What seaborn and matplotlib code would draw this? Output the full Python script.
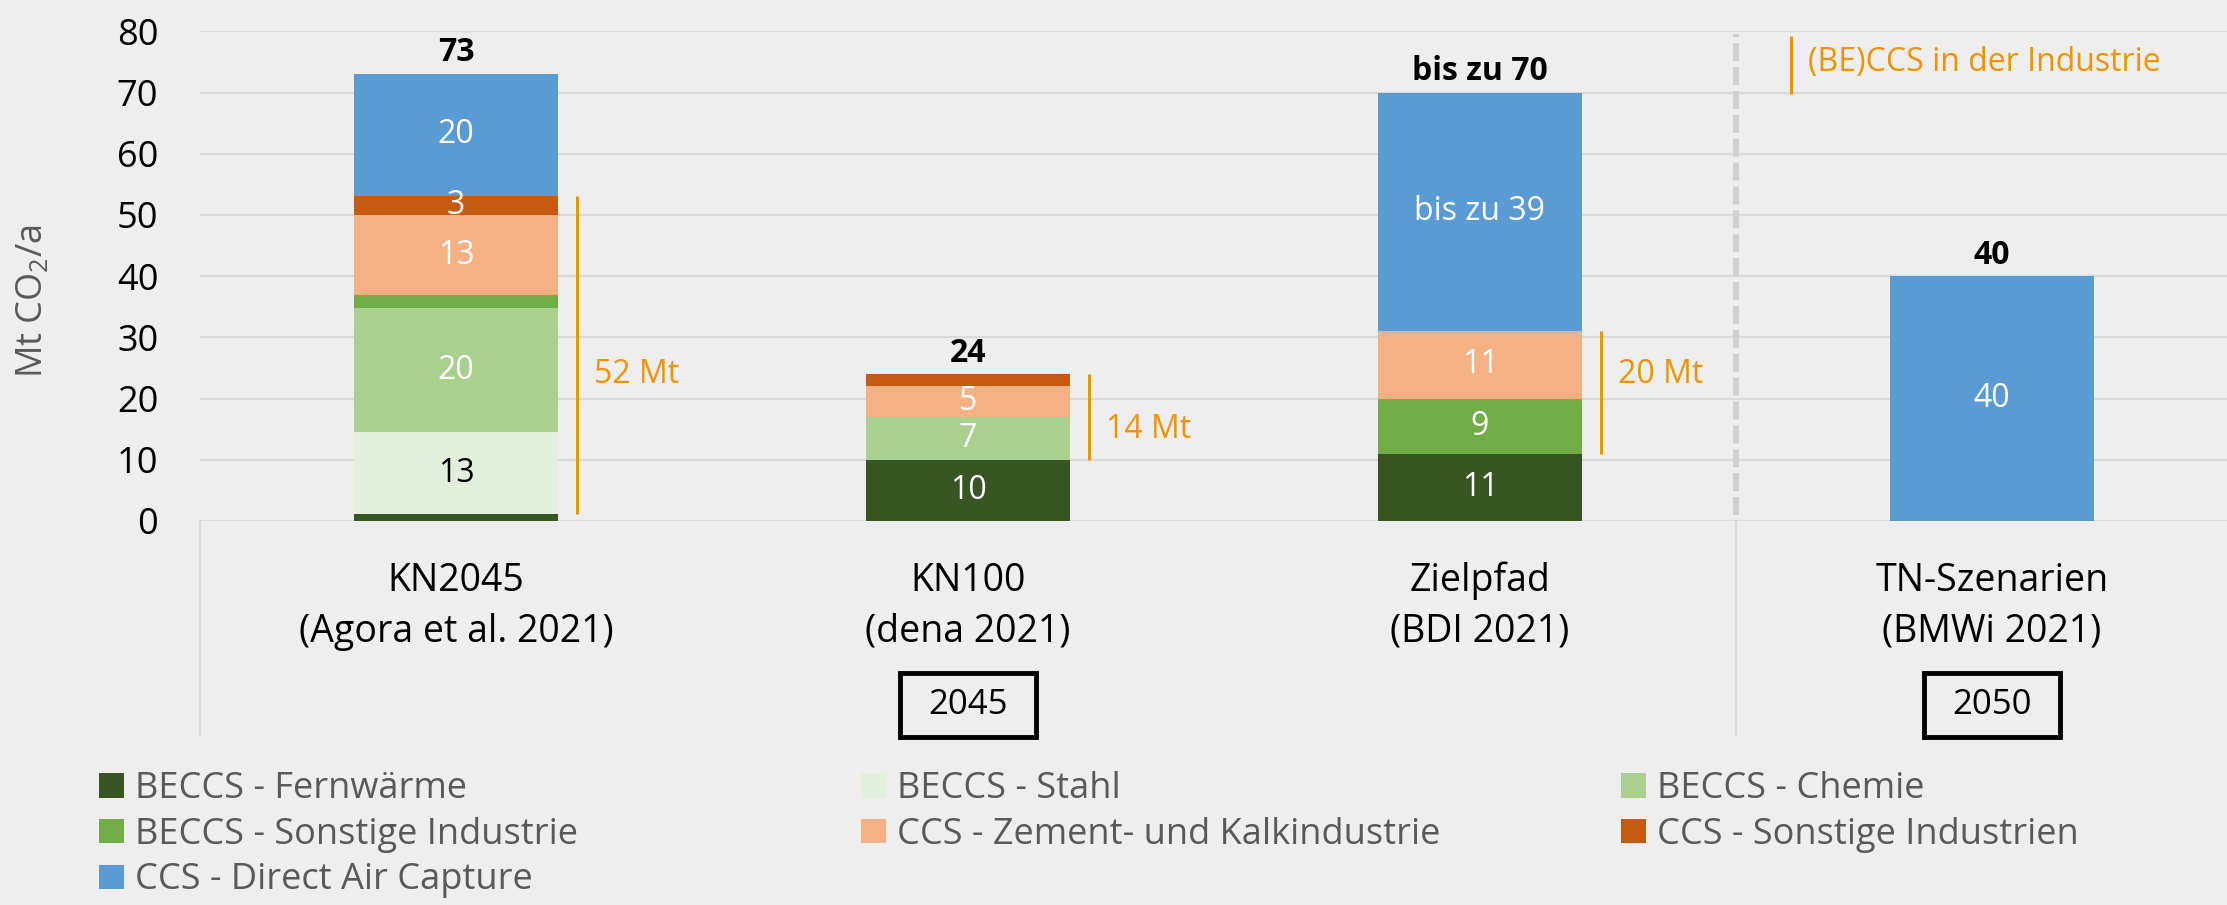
import seaborn as sns
import matplotlib.pyplot as plt
import matplotlib.transforms as mtransforms
from matplotlib.patches import Rectangle, Patch
import numpy as np
import pandas as pd

# Data (Mt CO2 per year)
scenarios = ['KN2045', 'KN100', 'Zielpfad', 'TN-Szenarien']
sources = ['(Agora et al. 2021)', '(dena 2021)', '(BDI 2021)', '(BMWi 2021)']
segments = ['BECCS - Fernwärme', 'BECCS - Stahl', 'BECCS - Chemie',
            'BECCS - Sonstige Industrie', 'CCS - Zement- und Kalkindustrie',
            'CCS - Sonstige Industrien', 'CCS - Direct Air Capture']
fernwaerme = [1.1, 10, 11, 0]
stahl = [13.4, 0, 0, 0]
chemie = [20.3, 7, 0, 0]
sonstige_industrie = [2.1, 0, 9, 0]
zement = [13.1, 5, 11, 0]
sonstige_industrien = [3.1, 2, 0, 0]
dac = [20, 0, 39, 40]
total_labels = ['73', '24', 'bis zu 70', '40']
dac_labels = ['20', '', 'bis zu 39', '40']
year_labels = {1: '2045', 3: '2050'}

colors = ['#375623', '#E2EFDA', '#A9D08E', '#70AD47', '#F4B183', '#C55A11', '#5B9BD5']
label_colors = ['white', 'black', 'white', 'white', 'white', 'white', 'white']
orange = '#F39200'
bg = '#EEEEEE'

df = pd.DataFrame({'scenario': scenarios,
                   segments[0]: fernwaerme, segments[1]: stahl, segments[2]: chemie,
                   segments[3]: sonstige_industrie, segments[4]: zement,
                   segments[5]: sonstige_industrien, segments[6]: dac})
cum = df[segments].cumsum(axis=1)

sns.set_style('white')
plt.rcParams['font.family'] = ['Open Sans', 'DejaVu Sans']
plt.rcParams['mathtext.fontset'] = 'custom'
plt.rcParams['mathtext.rm'] = 'Open Sans'

fig = plt.figure(figsize=(22.27, 9.05), dpi=100, facecolor=bg)
ax = fig.add_axes([200 / 2227, 384 / 905, 2048 / 2227, 489.6 / 905])
ax.set_facecolor(bg)

# stacked bars: draw cumulative totals from the top down
for k in range(len(segments) - 1, -1, -1):
    sns.barplot(x=df['scenario'], y=cum[segments[k]], order=scenarios, color=colors[k],
                saturation=1, width=0.4, linewidth=0, ax=ax)

# segment labels
for k, seg in enumerate(segments):
    for i in range(len(scenarios)):
        v = df[seg][i]
        if seg == segments[-1]:
            txt = dac_labels[i]
        else:
            txt = f'{v:.0f}' if v >= 2.5 else ''
        if txt:
            ax.text(i, cum[seg][i] - v / 2, txt, ha='center', va='center',
                    fontsize=23, color=label_colors[k])

# totals above bars
for i in range(len(scenarios)):
    ax.annotate(total_labels[i], (i, cum[segments[-1]][i]), xytext=(0, 3),
                textcoords='offset points', ha='center', va='bottom',
                fontsize=23, fontweight='bold', color='black')

# orange brackets for industrial (BE)CCS
ann_y = [24, 15, 24]
for i in range(3):
    lo = fernwaerme[i]
    hi = cum[segments[5]][i]
    ax.plot([i + 0.237, i + 0.237], [lo, hi], color=orange, lw=2.2, solid_capstyle='butt')
    ax.text(i + 0.27, ann_y[i], f'{hi - lo:.0f} Mt', ha='left', va='center',
            fontsize=23, color=orange)

ax.plot([2.607, 2.607], [69.7, 79.3], color=orange, lw=2.2, solid_capstyle='butt')
ax.text(2.64, 74.9, '(BE)CCS in der Industrie', ha='left', va='center',
        fontsize=23, color=orange)

# dashed separator between 2045 and 2050 scenarios
ax.plot([2.5, 2.5], [1.0, 79.6], color='#D0D0D0', lw=4.3, linestyle=(0, (3, 1)))

ax.set_xlim(-0.5, 3.5)
ax.set_ylim(0, 80)
ax.set_yticks(range(0, 81, 10))
ax.yaxis.grid(True, color='#DADADA', lw=1.6)
ax.set_axisbelow(True)
ax.tick_params(axis='y', length=0, labelsize=26, pad=30, labelcolor='black')
ax.set_xticks([])
ax.set_xlabel('')
ax.set_ylabel('')
for s in ax.spines.values():
    s.set_visible(False)

fig.text(33 / 2227, 1 - 301 / 905, r'Mt CO$_\mathrm{2}$/a', rotation=90,
         ha='center', va='center', fontsize=26, color='#595959')

# category axis below the plot
trans = mtransforms.blended_transform_factory(ax.transData, ax.transAxes)
for i in range(len(scenarios)):
    ax.text(i, -0.122, scenarios[i], transform=trans, ha='center', va='center',
            fontsize=27, color='black')
    ax.text(i, -0.226, sources[i], transform=trans, ha='center', va='center',
            fontsize=27, color='black')
for xb in [-0.5, 2.5]:
    ax.plot([xb, xb], [0, -0.437], transform=trans, color='#D9D9D9', lw=1.5, clip_on=False)
for i, yr in year_labels.items():
    ax.add_patch(Rectangle((i - 0.132, -0.441), 0.264, 0.131, transform=trans, fill=False,
                           edgecolor='black', lw=3.5, clip_on=False))
    ax.text(i, -0.376, yr, transform=trans, ha='center', va='center', fontsize=25, color='black')

# legend laid out in rows, three columns
col_x = [99 / 2227, 861 / 2227, 1621 / 2227]
handles = [Patch(facecolor=c, edgecolor='none') for c in colors]
for c in range(3):
    idx = list(range(c, len(segments), 3))
    fig.legend([handles[j] for j in idx], [segments[j] for j in idx],
               loc='upper left', bbox_to_anchor=(col_x[c], 1 - 771 / 905),
               frameon=False, fontsize=26, labelcolor='#595959',
               handlelength=0.69, handleheight=0.67, handletextpad=0.3,
               labelspacing=0.27, borderpad=0, borderaxespad=0)

fig.savefig('out.png', dpi=100, facecolor=bg)
